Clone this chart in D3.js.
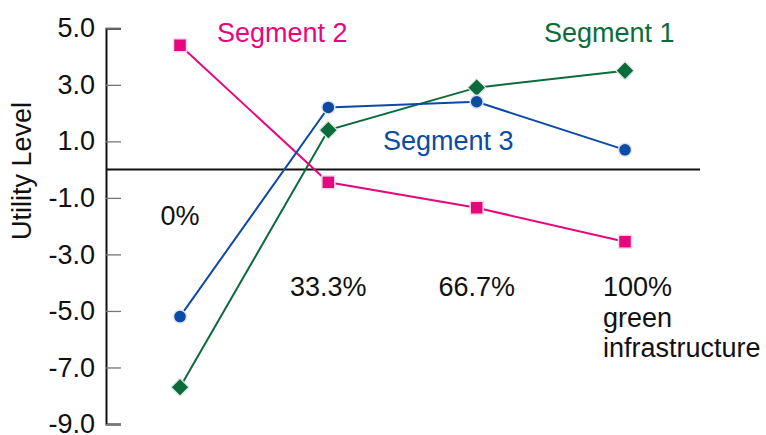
<!DOCTYPE html>
<html>
<head>
<meta charset="utf-8">
<script src="https://cdn.jsdelivr.net/npm/d3@7"></script>
<style>
  html, body { margin: 0; padding: 0; background: #fff; }
  svg { display: block; font-family: "Liberation Sans", Arial, Helvetica, sans-serif; }
</style>
</head>
<body>
<svg id="chart" width="766" height="435"></svg>
<script>
// Share of green infrastructure (x categories)
const categories = ["0%", "33.3%", "66.7%", "100%"];
const lastCategoryNote = ["green", "infrastructure"];

// Utility levels per segment
const segment1 = [-7.7, 1.4, 2.9, 3.5];
const segment2 = [4.4, -0.45, -1.35, -2.55];
const segment3 = [-5.2, 2.2, 2.4, 0.7];

const yTicks = [5, 3, 1, -1, -3, -5, -7, -9];
const yTitle = "Utility Level";

const series = [
  { name: "Segment 1", values: segment1, color: "#0b6b3b", halo: "#d8e8de", shape: "diamond", label: [544, 42] },
  { name: "Segment 2", values: segment2, color: "#e6077f", halo: "#f4dbe8", shape: "square",  label: [217, 42] },
  { name: "Segment 3", values: segment3, color: "#0c4aa3", halo: "#dbe3f1", shape: "circle",  label: [383, 150] }
];

const svg = d3.select("#chart");
const FS = 27;

const y = d3.scaleLinear().domain([-9, 5]).range([424, 28.3]);
const x = d3.scalePoint().domain(categories).range([180, 625]);
const axisX = 106;

// zero reference line
svg.append("line")
  .attr("x1", axisX).attr("x2", 700)
  .attr("y1", y(0)).attr("y2", y(0))
  .attr("stroke", "#111").attr("stroke-width", 2);

// left axis with inward ticks
const axis = d3.axisLeft(y)
  .tickValues(yTicks)
  .tickSize(-15)
  .tickSizeOuter(-15)
  .tickPadding(11)
  .tickFormat(d => d.toFixed(1));

const gAxis = svg.append("g")
  .attr("transform", `translate(${axisX},0)`)
  .call(axis);

gAxis.select(".domain").attr("stroke", "#111").attr("stroke-width", 2).attr("fill", "none");
gAxis.selectAll(".tick line").attr("stroke", "#777").attr("stroke-width", 1.3);
gAxis.selectAll(".tick text")
  .attr("font-size", FS)
  .attr("font-family", "Liberation Sans, Arial, sans-serif")
  .attr("fill", "#111");

// y title
svg.append("text")
  .attr("transform", `translate(31,171) rotate(-90)`)
  .attr("text-anchor", "middle")
  .attr("font-size", FS)
  .attr("fill", "#111")
  .text(yTitle);

// series lines and markers
const line = d3.line()
  .x((d, i) => x(categories[i]))
  .y(d => y(d));

series.forEach(s => {
  const g = svg.append("g");
  g.append("path")
    .datum(s.values)
    .attr("d", line)
    .attr("fill", "none")
    .attr("stroke", s.color)
    .attr("stroke-width", 2);

  const pts = g.selectAll(".pt")
    .data(s.values)
    .join("g")
    .attr("transform", (d, i) => `translate(${x(categories[i])},${y(d)})`);

  if (s.shape === "square") {
    pts.append("rect")
      .attr("x", -6.5).attr("y", -6.5).attr("width", 13).attr("height", 13)
      .attr("fill", s.color).attr("stroke", s.halo).attr("stroke-width", 1.5);
  } else if (s.shape === "circle") {
    pts.append("circle")
      .attr("r", 6.5)
      .attr("fill", s.color).attr("stroke", s.halo).attr("stroke-width", 1.5);
  } else {
    pts.append("path")
      .attr("d", "M0,-9L9,0L0,9L-9,0Z")
      .attr("fill", s.color).attr("stroke", s.halo).attr("stroke-width", 1.2);
  }

  svg.append("text")
    .attr("x", s.label[0]).attr("y", s.label[1])
    .attr("font-size", FS)
    .attr("fill", s.color)
    .text(s.name);
});

// category labels
categories.forEach((c, i) => {
  if (i === 0) {
    svg.append("text")
      .attr("x", x(c)).attr("y", 225)
      .attr("text-anchor", "middle")
      .attr("font-size", FS).attr("fill", "#111")
      .text(c);
  } else if (i < categories.length - 1) {
    svg.append("text")
      .attr("x", x(c)).attr("y", 296)
      .attr("text-anchor", "middle")
      .attr("font-size", FS).attr("fill", "#111")
      .text(c);
  } else {
    const t = svg.append("text")
      .attr("x", x(c) - 22).attr("y", 296)
      .attr("font-size", FS).attr("fill", "#111");
    [c].concat(lastCategoryNote).forEach((ln, k) => {
      t.append("tspan")
        .attr("x", x(c) - 22)
        .attr("dy", k === 0 ? 0 : 30.5)
        .text(ln);
    });
  }
});
</script>
</body>
</html>
